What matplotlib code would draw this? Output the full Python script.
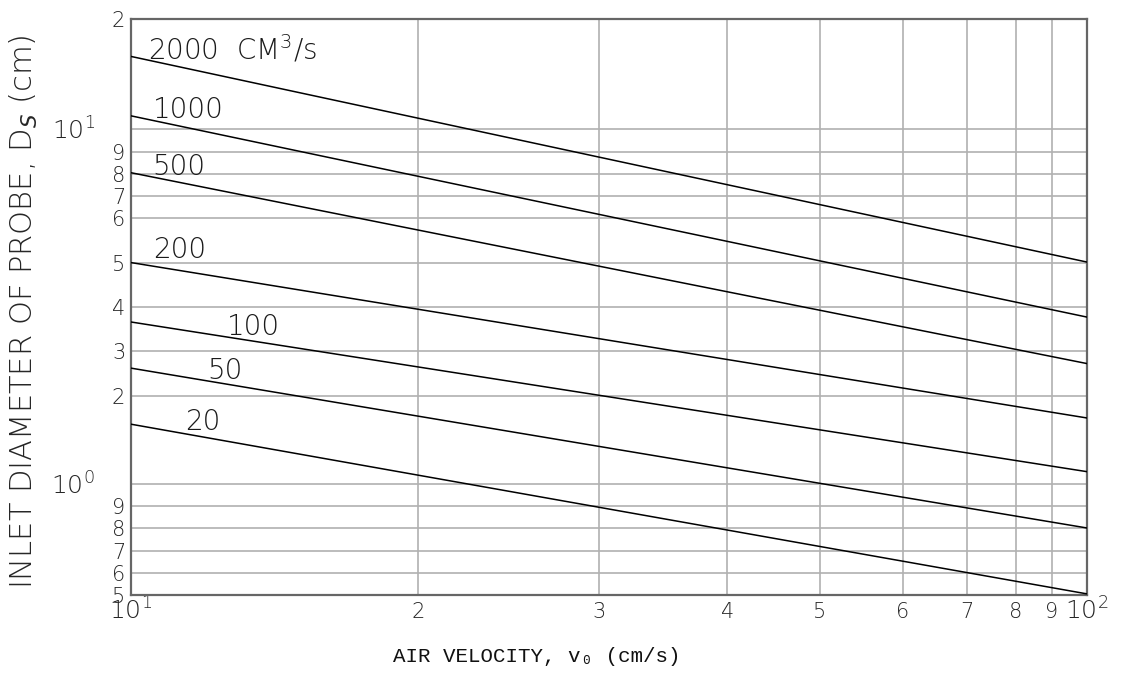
import numpy as np
import matplotlib
matplotlib.use("Agg")
import matplotlib.pyplot as plt
from matplotlib.ticker import FixedLocator, FixedFormatter, NullLocator

# flow rates (cm^3/s) and inlet diameter read at v = 10 and v = 100 cm/s
flow_rates = [2000, 1000, 500, 200, 100, 50, 20]
velocity_ends = [10, 100]
diam_at_10 = [16.6, 11.2, 8.06, 5.01, 3.66, 2.62, 1.68]
diam_at_100 = [5.02, 3.77, 2.72, 1.75, 1.14, 0.80, 0.505]

curve_labels = ["2000  CM$^3$/s", "1000", "500", "200", "100", "50", "20"]
# where each curve label sits, axes fraction
label_pos = [(0.018, 0.929), (0.023, 0.828), (0.023, 0.729), (0.023, 0.585),
             (0.101, 0.451), (0.080, 0.375), (0.057, 0.286)]

# the chart's own (distorted) graduations: value -> relative position on the axis
x_ticks = [10, 20, 30, 40, 50, 60, 70, 80, 90, 100]
x_tick_pos = [0.0, 287.0, 468.0, 596.6, 689.3, 772.3, 836.3, 885.3, 921.3, 956.3]
x_tick_labels = ["$10^1$", "2", "3", "4", "5", "6", "7", "8", "9", "$10^2$"]

y_ticks = [0.5, 0.6, 0.7, 0.8, 0.9, 1, 2, 3, 4, 5, 6, 7, 8, 9, 10, 20]
y_tick_pos = [0, 22, 44, 67, 89, 111, 199, 244, 288, 332, 377, 399, 421, 443, 466, 576]
y_tick_labels = ["5", "6", "7", "8", "9", "$10^0$", "2", "3", "4", "5", "6", "7", "8", "9",
                 "$10^1$", "2"]


def x_fwd(v):
    return np.interp(v, x_ticks, x_tick_pos)


def x_inv(p):
    return np.interp(p, x_tick_pos, x_ticks)


def y_fwd(v):
    return np.interp(v, y_ticks, y_tick_pos)


def y_inv(p):
    return np.interp(p, y_tick_pos, y_ticks)


plt.rcParams["font.family"] = ["DejaVu Sans"]
plt.rcParams["font.weight"] = "light"
fig = plt.figure(figsize=(11.34, 6.73), dpi=100)
ax = fig.add_axes([0.1153, 0.1159, 0.8433, 0.8559])

ax.set_xscale("function", functions=(x_fwd, x_inv))
ax.set_yscale("function", functions=(y_fwd, y_inv))
ax.set_xlim(10, 100)
ax.set_ylim(0.5, 20)

for d0, d1 in zip(diam_at_10, diam_at_100):
    ax.plot(velocity_ends, [d0, d1], color="black", lw=1.1, zorder=3)

for text, (tx, ty) in zip(curve_labels, label_pos):
    ax.text(tx, ty, text, transform=ax.transAxes, fontsize=20, color="#1a1a1a",
            ha="left", va="baseline")

ax.xaxis.set_major_locator(FixedLocator(x_ticks))
ax.xaxis.set_major_formatter(FixedFormatter(x_tick_labels))
ax.yaxis.set_major_locator(FixedLocator(y_ticks))
ax.yaxis.set_major_formatter(FixedFormatter(y_tick_labels))
ax.xaxis.set_minor_locator(NullLocator())
ax.yaxis.set_minor_locator(NullLocator())

ax.grid(True, color="#b0b0b0", lw=1.2)
ax.tick_params(length=0, labelsize=15, labelcolor="#262626")
ax.tick_params(axis="x", pad=5)
ax.tick_params(axis="y", pad=4)

for tick, lab in zip(ax.xaxis.get_major_ticks(), x_tick_labels):
    if lab.startswith("$"):
        tick.label1.set_fontsize(18)
        tick.set_pad(2)
for tick, lab in zip(ax.yaxis.get_major_ticks(), y_tick_labels):
    if lab.startswith("$"):
        tick.label1.set_fontsize(18)
        tick.set_pad(26)

for sp in ax.spines.values():
    sp.set_color("#666666")
    sp.set_linewidth(1.6)

fig.text(24 / 1134, 1 - 312 / 673, "INLET DIAMETER OF PROBE, D$_S$ (cm)",
         rotation=90, ha="center", va="center", fontsize=22, color="#262626")
fig.text(537 / 1134, 1 - 666 / 673, "AIR VELOCITY, v\u2080 (cm/s)",
         ha="center", va="bottom", fontsize=15, color="#111111",
         family=["Liberation Mono", "DejaVu Sans"])

fig.savefig("out.png", dpi=100)
